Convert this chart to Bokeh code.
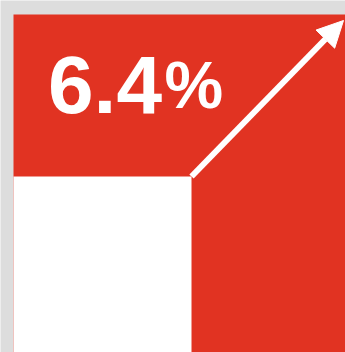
from bokeh.plotting import figure
from bokeh.models import Range1d, Arrow, NormalHead
from bokeh.core.properties import value
from bokeh.embed import file_html
from bokeh.resources import INLINE

# data
growth_value = 6.4
value_label = ["6.4"]
unit_label = ["%"]
panel_left = [13]
panel_right = [345]
panel_top = [14]
panel_bottom = [352]
base_left = [13]
base_right = [191]
base_top = [176]
base_bottom = [352]
arrow_from = (191, 176)
arrow_to = (343, 20)

RED = "#e13322"
BG = "#dddddd"

p = figure(width=345, height=352, output_backend="svg", toolbar_location=None,
           x_range=Range1d(0, 345), y_range=Range1d(352, 0), min_border=0,
           background_fill_color=BG, border_fill_color=BG, outline_line_color=None)
p.axis.visible = False
p.grid.visible = False

p.quad(left=panel_left, right=panel_right, top=panel_top, bottom=panel_bottom,
       fill_color=RED, line_color=None)
p.quad(left=base_left, right=base_right, top=base_top, bottom=base_bottom,
       fill_color="white", line_color=None)

p.add_layout(Arrow(end=NormalHead(size=26, fill_color="white", line_color="white", line_width=1),
                   x_start=arrow_from[0], y_start=arrow_from[1],
                   x_end=arrow_to[0], y_end=arrow_to[1],
                   line_color="white", line_width=6))

p.text(x=[47.5], y=[84], text=value_label, text_font=value("Liberation Sans"),
       text_font_style="bold", text_font_size="82px", text_color="white",
       text_baseline="alphabetic", text_align="left")
p.text(x=[164], y=[84], text=unit_label, text_font=value("Liberation Sans"),
       text_font_style="bold", text_font_size="66px", text_color="white",
       text_baseline="alphabetic", text_align="left")

open("out.html", "w").write(file_html(p, INLINE))
